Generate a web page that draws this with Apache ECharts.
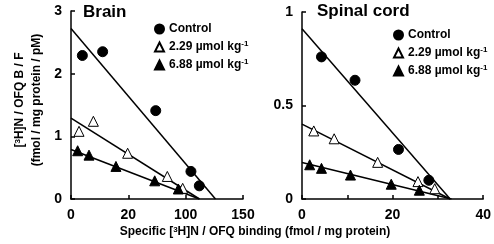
<!DOCTYPE html>
<html>
<head>
<meta charset="utf-8">
<script src="https://cdn.jsdelivr.net/npm/echarts@6/dist/echarts.min.js"></script>
<style>
  html, body { margin: 0; padding: 0; background: #fff; }
  #chart { width: 494px; height: 244px; }
</style>
</head>
<body>
<div id="chart"></div>
<script>
// brain panel data (x: specific binding, y: B/F)
const brainControl = [[9.9, 2.29], [27.6, 2.35], [73.9, 1.41], [104.6, 0.44], [111.9, 0.21]];
const brainLow = [[7.0, 1.08], [19.5, 1.24], [49.4, 0.73], [84.0, 0.36], [97.4, 0.17]];
const brainHigh = [[5.8, 0.77], [15.7, 0.70], [39.2, 0.52], [73.0, 0.29], [93.6, 0.16]];
const brainControlFit = [[0, 2.72], [126, 0]];
const brainLowFit = [[0, 1.29], [112, 0]];
const brainHighFit = [[0, 0.79], [112, 0]];

// spinal cord panel data
const spinalControl = [[4.3, 0.76], [11.7, 0.635], [21.3, 0.265], [28.0, 0.10]];
const spinalLow = [[2.6, 0.364], [7.1, 0.322], [16.7, 0.196], [25.6, 0.093], [29.3, 0.055]];
const spinalHigh = [[1.7, 0.183], [4.3, 0.164], [10.7, 0.128], [19.7, 0.079], [25.9, 0.047]];
const spinalControlFit = [[0, 0.91], [32.7, 0]];
const spinalLowFit = [[0, 0.40], [32.7, 0]];
const spinalHighFit = [[0, 0.195], [33, 0]];

// tick labels as printed
const brainXLabels = { 0: "0", 50: "20", 100: "100", 150: "150" };
const spinalXLabels = { 0: "0", 20: "20", 40: "40" };
const brainYLabels = { 0: "0", 1: "1", 2: "2", 3: "3" };
const spinalYLabels = { 0: "0", 0.5: "0.5", 1: "1" };

const legendNames = ["Control", "2.29", "6.88"];

const font = "Liberation Sans, Arial, sans-serif";
const black = "#000";

const chart = echarts.init(document.getElementById("chart"));

const axisCommon = {
  axisLine: { lineStyle: { color: black, width: 1.5 } },
  axisTick: { inside: true, length: 4, lineStyle: { color: black, width: 1.5 } },
  splitLine: { show: false },
  axisLabel: { color: black, fontFamily: font, fontWeight: "bold", fontSize: 14 },
};

const mk = (xi, name, data, kind) => {
  const style = {
    circle: { symbol: "circle", color: black },
    open: { symbol: "triangle", color: "#fff" },
    filled: { symbol: "triangle", color: black },
  }[kind];
  return {
    type: "scatter",
    name: name,
    xAxisIndex: xi,
    yAxisIndex: xi,
    data: data,
    symbol: style.symbol,
    symbolSize: 10,
    itemStyle: { color: style.color, borderColor: black, borderWidth: 1, opacity: 1 },
    z: 3,
  };
};

const fit = (xi, data) => ({
  type: "line",
  xAxisIndex: xi,
  yAxisIndex: xi,
  data: data,
  symbol: "none",
  lineStyle: { color: black, width: 1.5 },
  silent: true,
  z: 2,
});

const legendRich = {
  a: { fontFamily: font, fontWeight: "bold", fontSize: 12, color: black },
  s: { fontFamily: font, fontWeight: "bold", fontSize: 8, color: black, verticalAlign: "top", padding: [0, 0, 6, 0] },
};
const legendFormatter = (name) =>
  name === "Control" ? "{a|Control}" : "{a|" + name + " \u00b5mol kg}{s|-1}";

const makeLegend = (left, top) => ({
  orient: "vertical",
  left: left,
  top: top,
  itemGap: 5,
  itemWidth: 9,
  itemHeight: 9,
  data: legendNames,
  formatter: legendFormatter,
  textStyle: { rich: legendRich },
  selectedMode: false,
});

const titleRich = {
  a: { fontFamily: font, fontWeight: "bold", fontSize: 12, fill: black },
  s: { fontFamily: font, fontWeight: "bold", fontSize: 8, fill: black, verticalAlign: "top" },
};

chart.setOption({
  animation: false,
  backgroundColor: "#fff",
  grid: [
    { left: 71, top: 11, width: 172, height: 188 },
    { left: 302, top: 12, width: 186, height: 187 },
  ],
  xAxis: [
    Object.assign({}, axisCommon, {
      gridIndex: 0, type: "value", min: 0, max: 150, interval: 50,
      axisLabel: Object.assign({}, axisCommon.axisLabel, { margin: 9, formatter: (v) => brainXLabels[v] || "" }),
    }),
    Object.assign({}, axisCommon, {
      gridIndex: 1, type: "value", min: 0, max: 40, interval: 10,
      axisLabel: Object.assign({}, axisCommon.axisLabel, { margin: 9, formatter: (v) => spinalXLabels[v] || "" }),
    }),
  ],
  yAxis: [
    Object.assign({}, axisCommon, {
      gridIndex: 0, type: "value", min: 0, max: 3, interval: 1,
      axisLabel: Object.assign({}, axisCommon.axisLabel, { margin: 9, formatter: (v) => brainYLabels[v] || "" }),
    }),
    Object.assign({}, axisCommon, {
      gridIndex: 1, type: "value", min: 0, max: 1, interval: 0.5,
      axisLabel: Object.assign({}, axisCommon.axisLabel, { margin: 9, formatter: (v) => spinalYLabels[v] || "" }),
    }),
  ],
  legend: [makeLegend(149, 18), makeLegend(388, 24)],
  graphic: [
    {
      type: "text", left: 83, top: 4,
      style: { text: "Brain", font: "bold 17px " + font, fill: black },
    },
    {
      type: "text", left: 317, top: 3,
      style: { text: "Spinal cord", font: "bold 17px " + font, fill: black },
    },
    {
      type: "text", x: 20, y: 100, rotation: Math.PI / 2,
      style: {
        text: "{a|[}{s|3}{a|H]N / OFQ B / F}",
        rich: titleRich,
        align: "center", verticalAlign: "middle",
      },
    },
    {
      type: "text", x: 37, y: 100, rotation: Math.PI / 2,
      style: {
        text: "(fmol / mg protein / pM)",
        font: "bold 12px " + font, fill: black,
        align: "center", verticalAlign: "middle",
      },
    },
    {
      type: "text", x: 255, y: 232,
      style: {
        text: "{a|Specific [}{s|3}{a|H]N / OFQ binding (fmol / mg protein)}",
        rich: titleRich,
        align: "center", verticalAlign: "middle",
      },
    },
  ],
  series: [
    fit(0, brainControlFit),
    fit(0, brainLowFit),
    fit(0, brainHighFit),
    mk(0, "Control", brainControl, "circle"),
    mk(0, "2.29", brainLow, "open"),
    mk(0, "6.88", brainHigh, "filled"),
    fit(1, spinalControlFit),
    fit(1, spinalLowFit),
    fit(1, spinalHighFit),
    mk(1, "Control", spinalControl, "circle"),
    mk(1, "2.29", spinalLow, "open"),
    mk(1, "6.88", spinalHigh, "filled"),
  ],
});
</script>
</body>
</html>
